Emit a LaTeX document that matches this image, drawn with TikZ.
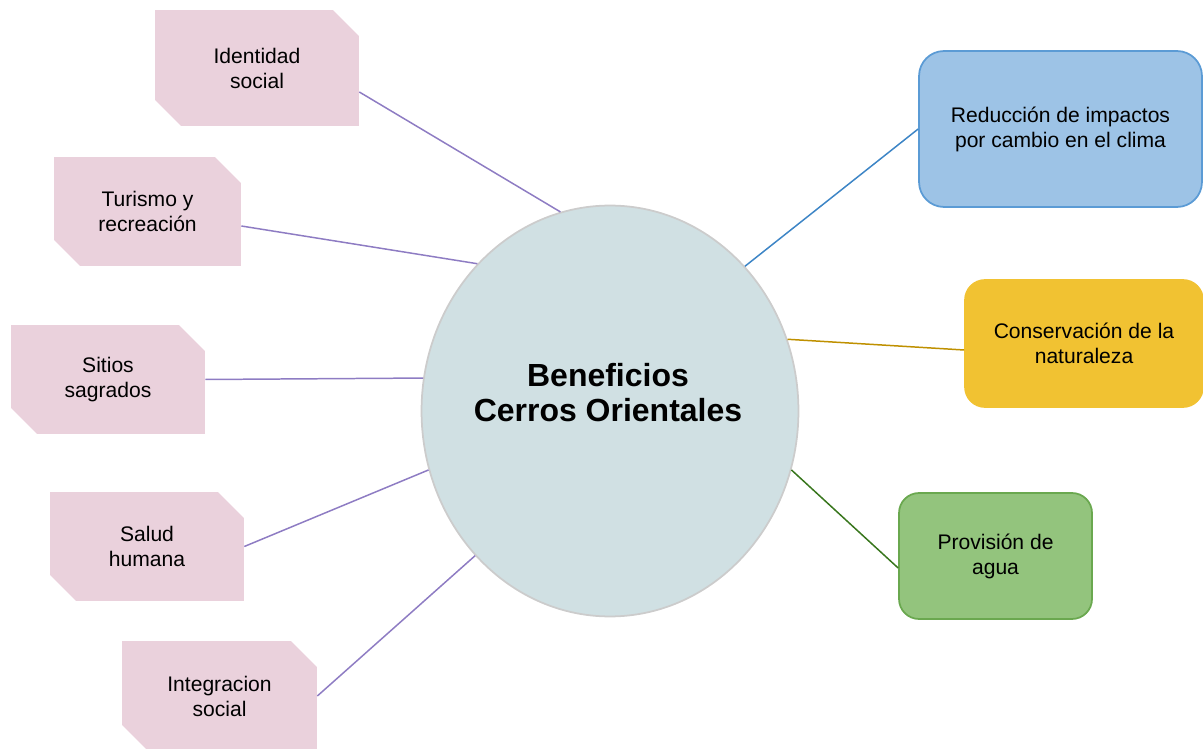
\documentclass[tikz,border=0pt]{standalone}
\usepackage{fontspec}
\setmainfont{Liberation Sans}
\usetikzlibrary{shapes.geometric,shapes.misc,calc}
\definecolor{rosa}{HTML}{EAD1DC}
\definecolor{lila}{HTML}{8E7CC3}
\definecolor{celeste}{HTML}{9DC3E6}
\definecolor{celesteborde}{HTML}{5B9BD5}
\definecolor{azul}{HTML}{3D85C6}
\definecolor{oro}{HTML}{F1C232}
\definecolor{ororaya}{HTML}{BF9000}
\definecolor{verde}{HTML}{93C47D}
\definecolor{verdeborde}{HTML}{6AA84F}
\definecolor{verderaya}{HTML}{38761D}
\definecolor{gris}{HTML}{D0E0E3}
\definecolor{grisborde}{HTML}{CCCCCC}

\begin{document}
\begin{tikzpicture}[x=0.02cm,y=-0.02cm,
  txt/.style={align=center,font=\fontsize{12}{14.2}\selectfont},
  social/.style={txt,chamfered rectangle,chamfered rectangle corners={north east,south west},
    chamfered rectangle xsep=0.4cm,fill=rosa,inner sep=0pt},
  natural/.style={txt,rectangle,inner sep=0pt,line width=1pt},
  enlace/.style={line width=0.85pt}]
  \useasboundingbox (0,0) rectangle (1203,749);
  %CENTRO
  \node[ellipse,fill=gris,draw=grisborde,line width=1pt,minimum width=7.54cm,minimum height=8.22cm,inner sep=0pt] (centro) at (610,411) {};
  \node[font=\fontsize{18.2}{20}\selectfont\bfseries,align=center] (titulo) at (608,393) {Beneficios\\Cerros Orientales};
  %IZQUIERDA
  \node[social,minimum width=4.08cm,minimum height=2.32cm] (identidad) at (257,68) {Identidad\\social};
  \node[social,minimum width=3.74cm,minimum height=2.18cm] (turismo) at (147.5,211.5) {Turismo y\\recreación};
  \node[social,minimum width=3.88cm,minimum height=2.18cm] (sitios) at (108,379.5) {Sitios\\sagrados};
  \node[social,minimum width=3.88cm,minimum height=2.18cm] (salud) at (147,546.5) {Salud\\humana};
  \node[social,minimum width=3.9cm,minimum height=2.2cm] (integracion) at (219.5,696) {Integracion\\social};
  %DERECHA
  \node[natural,fill=celeste,draw=celesteborde,rounded corners=0.5cm,minimum width=5.66cm,minimum height=3.12cm] (reduccion) at (1060.5,129) {Reducción de impactos\\por cambio en el clima};
  \node[natural,fill=oro,draw=oro,rounded corners=0.4cm,minimum width=4.76cm,minimum height=2.54cm] (conservacion) at (1084,343.5) {Conservación de la\\naturaleza};
  \node[natural,fill=verde,draw=verdeborde,rounded corners=0.4cm,minimum width=3.86cm,minimum height=2.52cm] (provision) at (995.5,556) {Provisión de\\agua};
  %ENLACES
  \draw[enlace,lila] ($(identidad.east)+(0,24)$) -- (centro.104.9);
  \draw[enlace,lila] ($(turismo.east)+(0,14.5)$) -- (centro.132.7);
  \draw[enlace,lila] (sitios.east) -- (centro.170);
  \draw[enlace,lila] (salud.east) -- (centro.198.3);
  \draw[enlace,lila] (integracion.east) -- (centro.227.9);
  \draw[enlace,azul] (reduccion.west) -- (centro.47.3);
  \draw[enlace,ororaya] ($(conservacion.west)+(0,6.5)$) -- (centro.22.1);
  \draw[enlace,verderaya] ($(provision.west)+(0,12)$) -- (centro.-18.4);
\end{tikzpicture}
\end{document}
